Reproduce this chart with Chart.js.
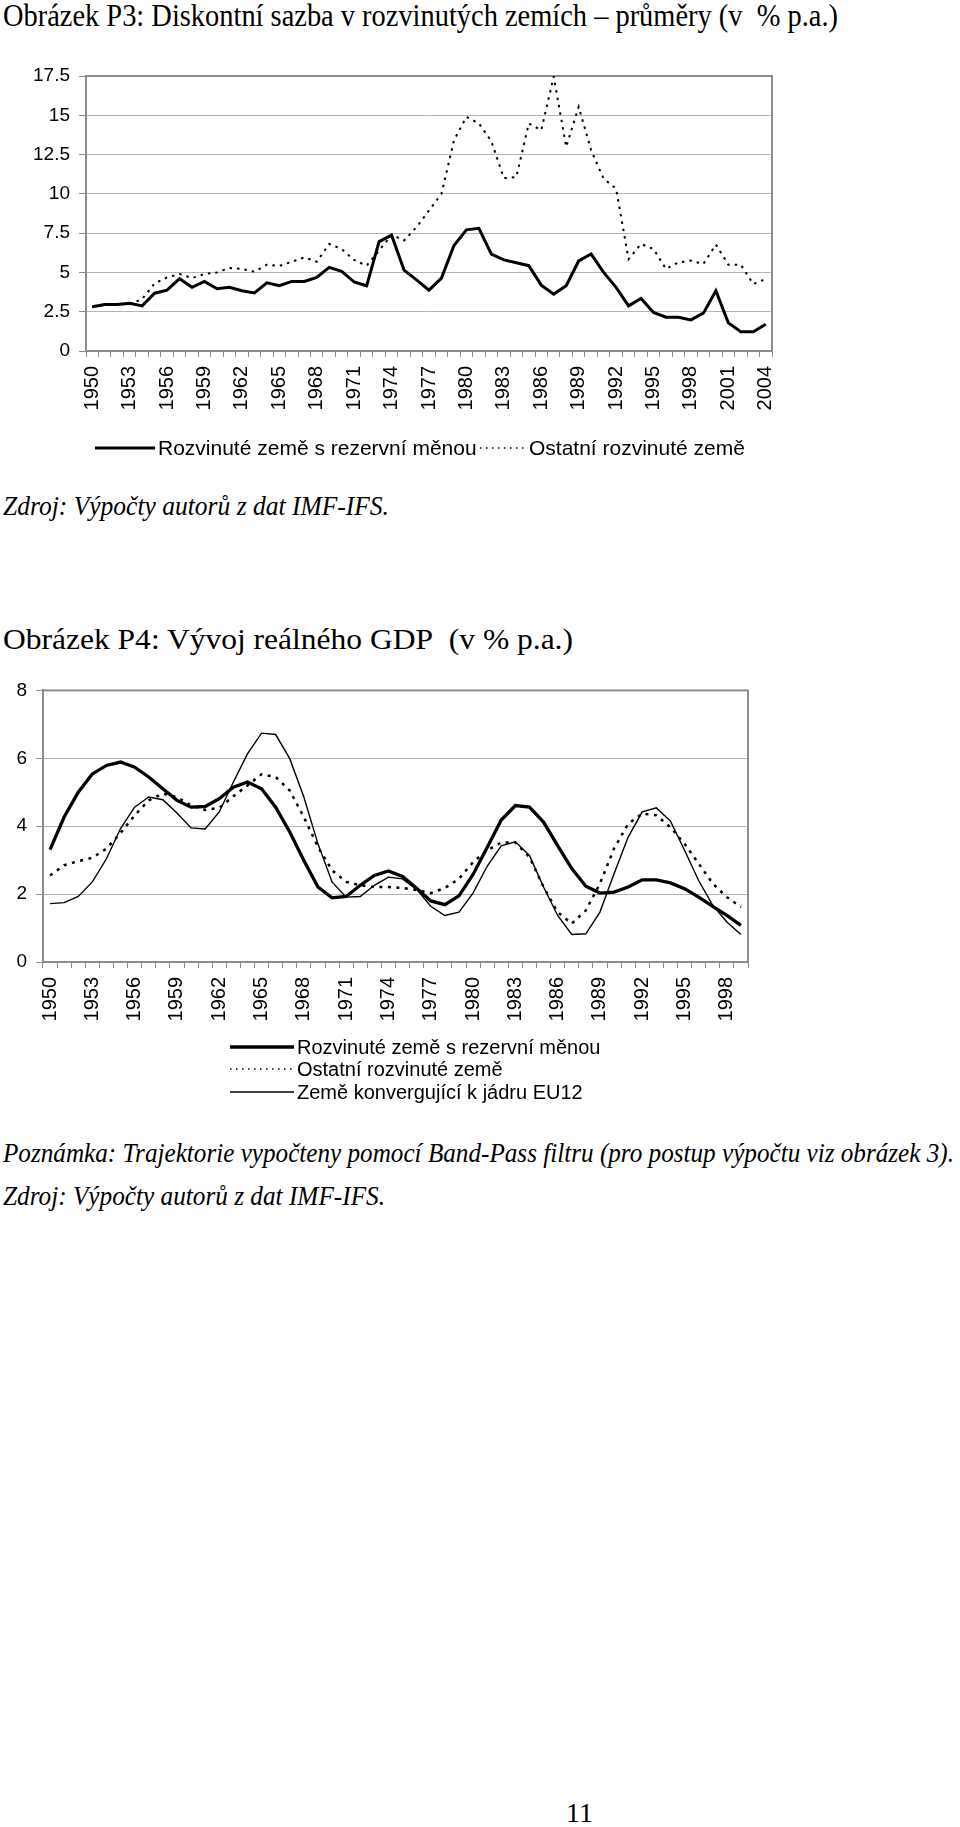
<!DOCTYPE html>
<html lang="cs">
<head>
<meta charset="utf-8">
<title>Obrázek P3 a P4</title>
<script src="https://cdn.jsdelivr.net/npm/chart.js@4.4.1/dist/chart.umd.min.js"></script>
<style>
  html, body { margin: 0; padding: 0; background: #fff; }
  #page { position: relative; width: 960px; height: 1827px; overflow: hidden; }
  .txt { position: absolute; left: 3px; white-space: nowrap; color: #000;
         font-family: "Liberation Serif", "Times New Roman", serif; transform-origin: 0 0; }
  .txt span { display: inline-block; transform-origin: 0 50%; }
  .it { font-style: italic; }
  canvas { position: absolute; left: 0; }
</style>
</head>
<body>
<div id="page">
  <div class="txt" style="top:0px;font-size:31px;line-height:31px"><span data-w="835">Obrázek P3: Diskontní sazba v rozvinutých zemích – průměry (v&nbsp; % p.a.)</span></div>
  <canvas id="rateChart" width="800" height="440" style="top:40px"></canvas>
  <div class="txt it" style="top:493px;font-size:27px;line-height:27px"><span data-w="386">Zdroj: Výpočty autorů z dat IMF-IFS.</span></div>

  <div class="txt" style="top:624px;font-size:30px;line-height:30px"><span data-w="570">Obrázek P4: Vývoj reálného GDP&nbsp; (v % p.a.)</span></div>
  <canvas id="gdpChart" width="800" height="440" style="top:670px"></canvas>
  <div class="txt it" style="top:1140px;font-size:27px;line-height:27px"><span data-w="951">Poznámka: Trajektorie vypočteny pomocí Band-Pass filtru (pro postup výpočtu viz obrázek 3).</span></div>
  <div class="txt it" style="top:1183px;font-size:27px;line-height:27px"><span data-w="382">Zdroj: Výpočty autorů z dat IMF-IFS.</span></div>

  <div class="txt" style="top:1799px;left:566px;font-size:28px;line-height:28px">11</div>
</div>
<script>
// --- Obrázek P3: diskontní sazba ---
const rateYears = [
  "1950","1951","1952","1953","1954","1955","1956","1957","1958","1959",
  "1960","1961","1962","1963","1964","1965","1966","1967","1968","1969",
  "1970","1971","1972","1973","1974","1975","1976","1977","1978","1979",
  "1980","1981","1982","1983","1984","1985","1986","1987","1988","1989",
  "1990","1991","1992","1993","1994","1995","1996","1997","1998","1999",
  "2000","2001","2002","2003","2004"
];
const rateReserve = [
  2.81, 2.96, 2.96, 3.04, 2.87, 3.68, 3.87, 4.60, 4.05, 4.43,
  3.96, 4.05, 3.83, 3.70, 4.34, 4.15, 4.43, 4.43, 4.68, 5.32,
  5.07, 4.39, 4.15, 6.96, 7.37, 5.15, 4.53, 3.87, 4.64, 6.71,
  7.71, 7.81, 6.17, 5.80, 5.62, 5.43, 4.19, 3.62, 4.15, 5.73,
  6.17, 5.00, 4.05, 2.87, 3.34, 2.45, 2.15, 2.15, 1.98, 2.41,
  3.83, 1.79, 1.23, 1.23, 1.70
];
const rateOther = [
  2.80, 2.92, 2.96, 2.98, 3.30, 4.30, 4.68, 4.90, 4.64, 4.90,
  5.00, 5.28, 5.22, 5.05, 5.49, 5.41, 5.68, 5.96, 5.68, 6.81,
  6.49, 5.79, 5.43, 6.39, 7.41, 7.03, 7.88, 8.94, 10.00, 13.40,
  14.90, 14.48, 13.35, 11.00, 11.07, 14.48, 14.05, 17.46, 12.99, 15.54,
  12.77, 10.96, 10.33, 5.85, 6.81, 6.49, 5.22, 5.64, 5.75, 5.54,
  6.77, 5.49, 5.49, 4.26, 4.58
];
const rateTicks = [0, 2.5, 5, 7.5, 10, 12.5, 15, 17.5];

// --- Obrázek P4: reálný GDP ---
const gdpYears = [
  "1950","1951","1952","1953","1954","1955","1956","1957","1958","1959",
  "1960","1961","1962","1963","1964","1965","1966","1967","1968","1969",
  "1970","1971","1972","1973","1974","1975","1976","1977","1978","1979",
  "1980","1981","1982","1983","1984","1985","1986","1987","1988","1989",
  "1990","1991","1992","1993","1994","1995","1996","1997","1998","1999"
];
const gdpReserve = [
  3.31, 4.27, 5.00, 5.54, 5.79, 5.89, 5.74, 5.45, 5.10, 4.76,
  4.56, 4.58, 4.81, 5.15, 5.30, 5.10, 4.56, 3.83, 2.99, 2.21,
  1.89, 1.93, 2.26, 2.55, 2.68, 2.52, 2.17, 1.80, 1.69, 1.95,
  2.58, 3.37, 4.18, 4.61, 4.56, 4.12, 3.43, 2.75, 2.23, 2.03,
  2.06, 2.21, 2.42, 2.42, 2.33, 2.16, 1.91, 1.64, 1.37, 1.08
];
const gdpOther = [
  2.55, 2.85, 2.97, 3.07, 3.34, 3.80, 4.32, 4.76, 4.96, 4.86,
  4.61, 4.48, 4.54, 4.88, 5.20, 5.53, 5.45, 5.05, 4.27, 3.39,
  2.70, 2.36, 2.26, 2.21, 2.21, 2.18, 2.12, 2.03, 2.18, 2.45,
  2.94, 3.29, 3.52, 3.52, 3.09, 2.21, 1.47, 1.13, 1.52, 2.31,
  3.34, 4.07, 4.37, 4.32, 3.97, 3.48, 2.90, 2.31, 1.91, 1.62
];
const gdpConverging = [
  1.72, 1.75, 1.93, 2.36, 3.04, 3.93, 4.56, 4.86, 4.78, 4.39,
  3.95, 3.92, 4.42, 5.30, 6.13, 6.74, 6.70, 5.99, 4.86, 3.48,
  2.36, 1.91, 1.93, 2.26, 2.50, 2.45, 2.14, 1.64, 1.37, 1.47,
  2.03, 2.82, 3.42, 3.54, 3.14, 2.21, 1.37, 0.81, 0.83, 1.47,
  2.60, 3.68, 4.42, 4.54, 4.15, 3.29, 2.40, 1.67, 1.18, 0.81
];
const gdpTicks = [0, 2, 4, 6, 8];

const AXIS = "#8c8c8c";
const GRID = "#b4b4b4";
const SANS = "'Liberation Sans', Arial, sans-serif";

// rámeček kolem plochy grafu (Excel styl)
const plotBorder = {
  id: "plotBorder",
  beforeDatasetsDraw(chart) {
    const { ctx, chartArea: a } = chart;
    ctx.save();
    ctx.strokeStyle = AXIS;
    ctx.lineWidth = 2;
    ctx.strokeRect(a.left, a.top, a.right - a.left, a.bottom - a.top);
    ctx.restore();
  }
};

// legenda s ukázkou čáry, vykreslená na plátno
const lineLegend = {
  id: "lineLegend",
  afterDraw(chart, args, opts) {
    const ctx = chart.ctx;
    ctx.save();
    ctx.font = opts.font;
    ctx.textBaseline = "middle";
    ctx.fillStyle = "#000";
    chart.data.datasets.forEach((ds, i) => {
      const it = opts.items[i];
      ctx.strokeStyle = "#000";
      ctx.lineWidth = it.width;
      ctx.setLineDash(it.dash || []);
      ctx.beginPath();
      ctx.moveTo(it.x, it.y);
      ctx.lineTo(it.x + it.len, it.y);
      ctx.stroke();
      ctx.setLineDash([]);
      ctx.fillText(ds.label, it.x + it.len + 3, it.y + 1);
    });
    ctx.restore();
  }
};

function axes(labels, ticks, yWidth, xHeight, xFont, yFont) {
  return {
    x: {
      offset: true,
      grid: { display: true, drawOnChartArea: false, offset: true, tickLength: 6, color: AXIS, lineWidth: 1 },
      border: { color: AXIS, width: 2 },
      ticks: {
        autoSkip: false, maxRotation: 90, minRotation: 90, padding: 9, color: "#000",
        font: { family: SANS, size: xFont },
        callback: (v, i) => (i % 3 === 0 ? labels[i] : "")
      },
      afterFit: s => { s.height = xHeight; }
    },
    y: {
      min: ticks[0], max: ticks[ticks.length - 1],
      afterBuildTicks: s => { s.ticks = ticks.map(v => ({ value: v })); },
      grid: { color: GRID, lineWidth: 1, tickLength: 7, tickColor: AXIS },
      border: { color: AXIS, width: 2 },
      ticks: { padding: 9, color: "#000", font: { family: SANS, size: yFont }, callback: v => String(v) },
      afterFit: s => { s.width = yWidth; }
    }
  };
}

new Chart(document.getElementById("rateChart").getContext("2d"), {
  type: "line",
  data: {
    labels: rateYears,
    datasets: [
      { label: "Rozvinuté země s rezervní měnou", data: rateReserve, borderColor: "#000",
        borderWidth: 3, pointRadius: 0, tension: 0 },
      { label: "Ostatní rozvinuté země", data: rateOther, borderColor: "#000",
        borderWidth: 2, borderDash: [2.5, 5], pointRadius: 0, tension: 0 }
    ]
  },
  options: {
    responsive: false, animation: false, devicePixelRatio: 1,
    layout: { padding: { top: 36, right: 28, left: 0, bottom: 0 } },
    plugins: {
      legend: { display: false }, tooltip: { enabled: false },
      lineLegend: {
        font: "21px " + SANS,
        items: [
          { x: 95, y: 408, len: 60, width: 3 },
          { x: 480, y: 408, len: 46, width: 1.5, dash: [1.5, 4.5] }
        ]
      }
    },
    scales: axes(rateYears, rateTicks, 86, 129, 20, 19)
  },
  plugins: [plotBorder, lineLegend]
});

new Chart(document.getElementById("gdpChart").getContext("2d"), {
  type: "line",
  data: {
    labels: gdpYears,
    datasets: [
      { label: "Rozvinuté země s rezervní měnou", data: gdpReserve, borderColor: "#000",
        borderWidth: 3.3, pointRadius: 0, tension: 0 },
      { label: "Ostatní rozvinuté země", data: gdpOther, borderColor: "#000",
        borderWidth: 2.5, borderDash: [3, 5.5], pointRadius: 0, tension: 0 },
      { label: "Země konvergující k jádru EU12", data: gdpConverging, borderColor: "#000",
        borderWidth: 1.4, pointRadius: 0, tension: 0 }
    ]
  },
  options: {
    responsive: false, animation: false, devicePixelRatio: 1,
    layout: { padding: { top: 20, right: 52, left: 0, bottom: 0 } },
    plugins: {
      legend: { display: false }, tooltip: { enabled: false },
      lineLegend: {
        font: "20px " + SANS,
        items: [
          { x: 230, y: 377, len: 64, width: 3.3 },
          { x: 230, y: 399, len: 64, width: 1.5, dash: [1.5, 4.5] },
          { x: 230, y: 422, len: 64, width: 1.5 }
        ]
      }
    },
    scales: axes(gdpYears, gdpTicks, 43, 148, 20, 19)
  },
  plugins: [plotBorder, lineLegend]
});

// přizpůsobení šířky nadpisů a poznámek
document.querySelectorAll("[data-w]").forEach(el => {
  const w = el.getBoundingClientRect().width;
  el.style.transform = "scaleX(" + (el.dataset.w / w) + ")";
});
</script>
</body>
</html>
